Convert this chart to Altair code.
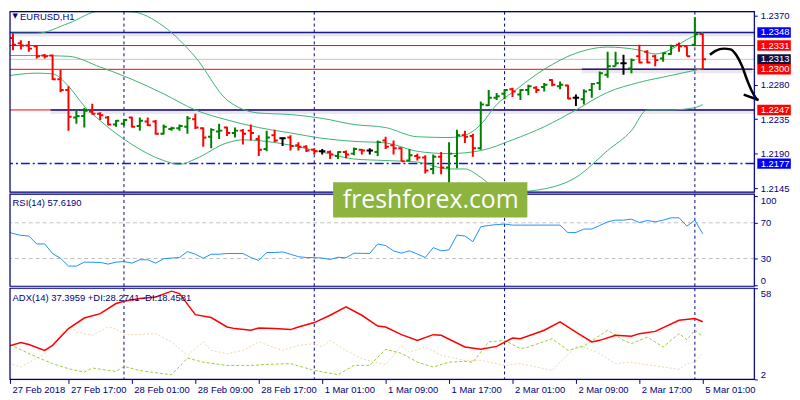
import json
import altair as alt
import pandas as pd

# ---------------- data (EURUSD H1, bars 27 Feb 09:00 -> 5 Mar 01:00) ----------------
OPEN = [1.2329, 1.2341, 1.2334, 1.2331, 1.2330, 1.2318, 1.2318, 1.2287, 1.2273, 1.2237,
        1.2239, 1.2245, 1.2242, 1.2237, 1.2228, 1.2229, 1.2237, 1.2226, 1.2232, 1.2232,
        1.2216, 1.2222, 1.2223, 1.2225, 1.2235, 1.2223, 1.2212, 1.2219, 1.2224, 1.2217,
        1.2220, 1.2220, 1.2209, 1.2196, 1.2214, 1.2210, 1.2211, 1.2201, 1.2199, 1.2195,
        1.2193, 1.2192, 1.2187, 1.2192, 1.2190, 1.2195, 1.2194, 1.2192, 1.2207, 1.2201,
        1.2197, 1.2181, 1.2187, 1.2185, 1.2170, 1.2186, 1.2172, 1.2187, 1.2214, 1.2213,
        1.2197, 1.2253, 1.2263, 1.2268, 1.2274, 1.2267, 1.2273, 1.2276, 1.2277, 1.2286,
        1.2278, 1.2279, 1.2263, 1.2261, 1.2273, 1.2282, 1.2293, 1.2304, 1.2308, 1.2301,
        1.2317, 1.2323, 1.2317, 1.2314, 1.2320, 1.2332, 1.2330, 1.2332, 1.2346]
HIGH = [1.2346, 1.2347, 1.2338, 1.2337, 1.2331, 1.2320, 1.2319, 1.2299, 1.2278, 1.2248,
        1.2250, 1.2255, 1.2244, 1.2239, 1.2234, 1.2235, 1.2238, 1.2237, 1.2237, 1.2234,
        1.2228, 1.2225, 1.2228, 1.2239, 1.2242, 1.2224, 1.2223, 1.2229, 1.2225, 1.2224,
        1.2222, 1.2228, 1.2214, 1.2220, 1.2221, 1.2211, 1.2214, 1.2205, 1.2201, 1.2197,
        1.2196, 1.2194, 1.2193, 1.2194, 1.2198, 1.2196, 1.2197, 1.2207, 1.2212, 1.2207,
        1.2198, 1.2196, 1.2190, 1.2188, 1.2189, 1.2192, 1.2205, 1.2221, 1.2220, 1.2216,
        1.2258, 1.2273, 1.2269, 1.2274, 1.2276, 1.2274, 1.2280, 1.2278, 1.2282, 1.2287,
        1.2284, 1.2280, 1.2267, 1.2274, 1.2282, 1.2297, 1.2323, 1.2323, 1.2319, 1.2314,
        1.2332, 1.2325, 1.2319, 1.2322, 1.2332, 1.2335, 1.2330, 1.2368, 1.2347]
LOW = [1.2322, 1.2325, 1.2326, 1.2323, 1.2314, 1.2314, 1.2286, 1.2270, 1.2220, 1.2229,
       1.2224, 1.2241, 1.2234, 1.2227, 1.2225, 1.2226, 1.2224, 1.2220, 1.2226, 1.2215,
       1.2215, 1.2220, 1.2220, 1.2216, 1.2222, 1.2199, 1.2197, 1.2209, 1.2213, 1.2211,
       1.2202, 1.2207, 1.2187, 1.2193, 1.2205, 1.2200, 1.2194, 1.2194, 1.2192, 1.2189,
       1.2189, 1.2183, 1.2183, 1.2184, 1.2188, 1.2189, 1.2189, 1.2187, 1.2196, 1.2189,
       1.2180, 1.2180, 1.2181, 1.2164, 1.2163, 1.2163, 1.2152, 1.2171, 1.2204, 1.2186,
       1.2195, 1.2252, 1.2260, 1.2261, 1.2264, 1.2260, 1.2266, 1.2269, 1.2271, 1.2278,
       1.2274, 1.2261, 1.2252, 1.2254, 1.2263, 1.2273, 1.2289, 1.2304, 1.2293, 1.2295,
       1.2308, 1.2308, 1.2304, 1.2310, 1.2319, 1.2323, 1.2317, 1.2330, 1.2299]
CLOSE = [1.2341, 1.2332, 1.2331, 1.2327, 1.2317, 1.2317, 1.2287, 1.2273, 1.2238, 1.2239,
         1.2246, 1.2242, 1.2240, 1.2228, 1.2233, 1.2234, 1.2225, 1.2233, 1.2227, 1.2216,
         1.2225, 1.2223, 1.2226, 1.2236, 1.2224, 1.2211, 1.2221, 1.2220, 1.2217, 1.2220,
         1.2216, 1.2217, 1.2195, 1.2211, 1.2207, 1.2210, 1.2200, 1.2199, 1.2194, 1.2193,
         1.2193, 1.2189, 1.2192, 1.2189, 1.2196, 1.2194, 1.2194, 1.2205, 1.2199, 1.2197,
         1.2180, 1.2188, 1.2185, 1.2168, 1.2186, 1.2172, 1.2190, 1.2214, 1.2212, 1.2197,
         1.2254, 1.2263, 1.2265, 1.2273, 1.2271, 1.2273, 1.2278, 1.2273, 1.2280, 1.2280,
         1.2280, 1.2262, 1.2263, 1.2271, 1.2281, 1.2295, 1.2304, 1.2308, 1.2308, 1.2312,
         1.2309, 1.2309, 1.2312, 1.2321, 1.2330, 1.2330, 1.2317, 1.2346, 1.2313]

BB_UP_IDX = [0, 4, 8, 12, 16, 20, 24, 28, 32, 36, 40, 44, 48, 52, 56, 58, 60, 62, 64, 68, 72, 76, 80, 82, 84, 86, 88]
BB_UP = [1.2347, 1.2347, 1.2360, 1.2376, 1.2375, 1.2356, 1.2316, 1.2260, 1.2243, 1.2241, 1.2236, 1.2228, 1.2224,
         1.2212, 1.2211, 1.2214, 1.2228, 1.2254, 1.2270, 1.2300, 1.2321, 1.2329, 1.2325, 1.2320, 1.2326, 1.2339, 1.2348]
BB_MID_IDX = [0, 4, 8, 12, 16, 20, 24, 28, 32, 36, 40, 44, 48, 52, 56, 60, 64, 68, 72, 76, 80, 84, 88]
BB_MID = [1.2318, 1.2318, 1.2317, 1.2303, 1.2287, 1.2268, 1.2247, 1.2234, 1.2224, 1.2217, 1.2210, 1.2206,
          1.2204, 1.2193, 1.2190, 1.2194, 1.2208, 1.2225, 1.2247, 1.2270, 1.2283, 1.2292, 1.2301]
BB_LOW_IDX = [0, 4, 6, 8, 10, 12, 16, 20, 22, 24, 28, 30, 32, 36, 40, 44, 48, 52, 56, 58, 60, 62, 64, 68, 72,
              76, 79, 81, 84, 87, 88]
BB_LOW = [1.2291, 1.2295, 1.2294, 1.2278, 1.2252, 1.2233, 1.2202, 1.2181, 1.2176, 1.2183, 1.2204, 1.2208,
          1.2207, 1.2201, 1.2192, 1.2183, 1.2181, 1.2179, 1.2170, 1.2170, 1.2159, 1.2144, 1.2140, 1.2144,
          1.2159, 1.2194, 1.2220, 1.2247, 1.2247, 1.2250, 1.2254]

RSI = [61.0, 58.0, 56.0, 55.2, 46.3, 46.3, 35.5, 30.3, 21.5, 21.5,
       25.9, 25.8, 25.6, 23.7, 25.9, 26.7, 24.8, 28.6, 28.6, 24.8,
       29.7, 30.5, 31.1, 37.8, 34.8, 30.3, 34.8, 34.8, 35.6, 35.6,
       35.6, 31.1, 27.8, 36.7, 36.7, 37.4, 34.8, 32.0, 31.1, 31.0,
       30.5, 28.9, 31.4, 30.8, 35.9, 35.8, 35.6, 46.3, 44.5, 38.5,
       36.0, 38.6, 35.0, 31.1, 42.2, 38.6, 39.7, 56.3, 55.2, 48.9,
       65.6, 67.0, 68.0, 68.6, 67.4, 67.4, 67.4, 67.4, 67.4, 67.4,
       67.4, 58.9, 59.2, 63.0, 63.0, 67.0, 71.1, 73.0, 73.0, 74.1,
       70.3, 72.6, 71.1, 73.0, 75.6, 75.6, 66.3, 73.0, 57.6]

ADX_IDX = [0, 2, 3, 5, 6, 8, 10, 12, 14, 15, 17, 19, 21, 22, 24, 26, 28, 29, 31, 32, 34, 36, 37, 39, 41, 43, 45,
           47, 48, 50, 52, 54, 55, 58, 60, 62, 64, 65, 68, 70, 72, 74, 75, 77, 79, 80, 82, 85, 87, 88]
ADX = [21.9, 24.6, 23.4, 19.8, 22.9, 33.2, 39.7, 42.4, 48.6, 50.0, 51.7, 52.6, 56.2, 54.7, 41.8, 40.0, 34.2,
       33.2, 32.2, 33.6, 33.2, 32.6, 34.2, 36.9, 41.4, 46.5, 41.4, 34.8, 34.2, 29.5, 26.0, 29.5, 29.1, 21.9,
       20.5, 22.3, 27.4, 27.0, 32.2, 37.3, 31.1, 25.0, 26.0, 29.1, 28.5, 30.1, 31.5, 38.3, 39.4, 37.4]
PDI_IDX = [0, 1, 4, 6, 8, 10, 11, 14, 15, 17, 19, 21, 23, 25, 28, 31, 33, 36, 39, 42, 44, 46, 48, 50, 52, 54,
           56, 58, 59, 61, 63, 65, 66, 69, 71, 73, 76, 78, 79, 81, 83, 85, 86, 87, 88]
PDI = [24.0, 22.5, 15.7, 11.7, 8.6, 6.5, 9.0, 6.9, 10.0, 7.5, 6.1, 4.9, 15.1, 12.6, 10.6, 10.6, 11.2, 11.7,
       7.5, 4.9, 10.6, 10.6, 20.5, 18.0, 12.6, 9.6, 12.6, 13.1, 12.6, 25.0, 26.0, 20.9, 21.9, 27.0, 19.8,
       22.5, 32.2, 26.0, 24.0, 28.0, 21.9, 30.1, 26.4, 32.2, 28.3]
MDI_IDX = [0, 2, 5, 8, 9, 11, 13, 14, 15, 17, 19, 21, 23, 25, 26, 28, 30, 32, 35, 37, 39, 40, 41, 43, 45, 48,
           50, 51, 53, 55, 58, 60, 63, 65, 67, 69, 70, 72, 73, 75, 77, 79, 80, 83, 85, 86, 87, 88]
MDI = [12.6, 9.6, 17.8, 35.2, 31.1, 29.1, 34.2, 33.2, 29.5, 29.5, 30.1, 25.0, 16.8, 25.0, 19.8, 17.8, 19.8,
       25.0, 19.8, 22.9, 24.0, 21.9, 26.0, 19.8, 14.7, 11.0, 22.9, 18.8, 21.9, 16.8, 13.7, 13.7, 10.6, 11.7,
       9.6, 7.5, 12.6, 21.9, 21.9, 17.8, 11.7, 12.6, 11.7, 9.6, 8.2, 11.7, 12.6, 18.5]

X_TICKS = [0, 8, 16, 24, 32, 40, 48, 56, 64, 72, 80, 88]
X_LABELS = ["27 Feb 2018", "27 Feb 17:00", "28 Feb 01:00", "28 Feb 09:00", "28 Feb 17:00", "1 Mar 01:00",
            "1 Mar 09:00", "1 Mar 17:00", "2 Mar 01:00", "2 Mar 09:00", "2 Mar 17:00", "5 Mar 01:00"]
DAY_SEPARATORS = [15, 39, 63, 87]
PRICE_TICKS = [1.2370, 1.2280, 1.2235, 1.2190, 1.2145]
RSI_TICKS = [100, 70, 30, 0]
RSI_LEVELS = [70, 30]
ADX_TICKS = [58, 2]

RED_LEVELS = [1.2331, 1.2300, 1.2247]
BID = 1.2313
DASHDOT_LEVEL = 1.2177
TREND_P = [1.2348, 1.2300, 1.2247]
TREND_X0 = [0.0, 72.75, 5.75]
TREND_X1 = [94.5, 94.25, 94.5]
LABEL_LEVELS = [1.2348, 1.2331, 1.2313, 1.2300, 1.2247, 1.2177]
LABEL_BG = ["#0000FF", "#FF0000", "#101040", "#FF0000", "#FF0000", "#0000FF"]

ARROW_I = [88.9, 89.6, 90.66, 91.5, 92.2, 92.96, 93.59, 94.21, 94.84]
ARROW_P = [1.2319, 1.2324, 1.2327, 1.2326, 1.2319, 1.2304, 1.2286, 1.2271, 1.2260]
BARB_I = [93.16, 95.04]
BARB_P = [1.2267, 1.2260]

# ---------------- layout / style ----------------
NAVY = "#000080"
FONT = "Liberation Sans"
FS = 9.5
W = 751
H_MAIN, H_RSI, H_ADX = 182, 93, 92
X_DOM = [0.625, 94.5]
P_DOM = [1.213982, 1.237517]
R_DOM = [-1.1, 102.2]
A_DOM = [2, 58]
FRAME_W = 1.2

xs = alt.Scale(domain=X_DOM, nice=False, zero=False)
ps = alt.Scale(domain=P_DOM, nice=False, zero=False)
rs = alt.Scale(domain=R_DOM, nice=False, zero=False)
ads = alt.Scale(domain=A_DOM, nice=False, zero=False)

common_axis = dict(title=None, grid=False, domain=False, tickSize=3, tickColor=NAVY,
                   labelColor=NAVY, labelFont=FONT, labelFontSize=FS, labelPadding=3)
p_axis = alt.Axis(orient="right", values=PRICE_TICKS, format=".4f", **common_axis)
r_axis = alt.Axis(orient="right", values=RSI_TICKS, labelFlush=6, **common_axis)
a_axis = alt.Axis(orient="right", values=ADX_TICKS, labelFlush=6, **common_axis)
x_axis = alt.Axis(values=[max(t, X_DOM[0]) for t in X_TICKS],
                  labelExpr=json.dumps(X_LABELS) + "[round(datum.value / 8)]",
                  title=None, grid=False, domain=False, tickSize=4, tickColor=NAVY,
                  labelColor=NAVY, labelFont=FONT, labelFontSize=FS, labelAlign="left",
                  labelPadding=1, labelOffset=2, labelOverlap=False)


def X(f, axis=None):
    return alt.X(f"{f}:Q", scale=xs, axis=axis, title=None)


def PY(f):
    return alt.Y(f"{f}:Q", scale=ps, axis=p_axis, title=None)


def RY(f):
    return alt.Y(f"{f}:Q", scale=rs, axis=r_axis, title=None)


def AY(f):
    return alt.Y(f"{f}:Q", scale=ads, axis=a_axis, title=None)


sep_df = pd.DataFrame({"i": DAY_SEPARATORS})

# ---------------- main panel ----------------
n = len(OPEN)
cdf = pd.DataFrame({"i": list(range(n)), "o": OPEN, "h": HIGH, "l": LOW, "c": CLOSE})
cdf["dir"] = ["up" if c > o else ("down" if c < o else "flat") for o, c in zip(OPEN, CLOSE)]
cdf["il"] = cdf["i"] - 0.4
cdf["ir"] = cdf["i"] + 0.4
ccol = alt.Color("dir:N", scale=alt.Scale(domain=["up", "down", "flat"],
                                          range=["#008000", "#FF0000", "#000000"]), legend=None)

bb_df = pd.concat([
    pd.DataFrame({"i": BB_UP_IDX, "p": BB_UP, "band": "up"}),
    pd.DataFrame({"i": BB_MID_IDX, "p": BB_MID, "band": "mid"}),
    pd.DataFrame({"i": BB_LOW_IDX, "p": BB_LOW, "band": "low"}),
])

trend_df = pd.DataFrame({"p": TREND_P, "x0": [max(v, X_DOM[0]) for v in TREND_X0], "x1": TREND_X1})
lab_df = pd.DataFrame({"p": LABEL_LEVELS, "bg": LABEL_BG,
                       "label": [f"{v:.4f}" for v in LABEL_LEVELS]})
lab_df["top"] = lab_df["p"] + 0.00068
lab_df["bot"] = lab_df["p"] - 0.00068
lab_df["x0"] = 94.875
lab_df["x1"] = 99.1
lab_df["tx"] = 95.3

arrow_df = pd.DataFrame({"i": ARROW_I, "p": ARROW_P, "ord": list(range(len(ARROW_I)))})
barb_df = pd.DataFrame({"i": BARB_I, "p": BARB_P, "ord": [0, 1]})
frame_main = pd.DataFrame({"x0": [X_DOM[0]], "x1": [X_DOM[1]], "y0": [P_DOM[0]], "y1": [P_DOM[1]]})
title_df = pd.DataFrame({"i": [1.9], "p": [1.23681], "t": ["EURUSD,H1"]})
tri_df = pd.DataFrame({"i": [0.95], "p": [1.23690], "t": ["\u25BC"]})

main = alt.layer(
    alt.Chart(sep_df).mark_rule(color=NAVY, strokeDash=[3, 3], strokeWidth=1).encode(x=X("i")),
    alt.Chart(pd.DataFrame({"p": RED_LEVELS})).mark_rule(color="#FF0000", strokeWidth=1).encode(y=PY("p")),
    alt.Chart(pd.DataFrame({"p": [BID]})).mark_rule(color="#C8C8C8", strokeWidth=1).encode(y=PY("p")),
    alt.Chart(pd.DataFrame({"p": [DASHDOT_LEVEL]})).mark_rule(
        color="#1515D0", strokeWidth=1.5, strokeDash=[9, 3, 2, 3]).encode(y=PY("p")),
    alt.Chart(trend_df).mark_rule(color="#A8A8B8", strokeWidth=5, opacity=0.25, yOffset=1.5, clip=True).encode(
        x=X("x0"), x2="x1", y=PY("p")),
    alt.Chart(trend_df).mark_rule(color="#1A1A8C", strokeWidth=1.6, clip=True).encode(
        x=X("x0"), x2="x1", y=PY("p")),
    alt.Chart(bb_df).mark_line(color="#3CB371", strokeWidth=1, interpolate="monotone", clip=True).encode(
        x=X("i"), y=PY("p"), detail="band:N"),
    alt.Chart(cdf).mark_rule(strokeWidth=2, clip=True).encode(x=X("i"), y=PY("l"), y2="h", color=ccol),
    alt.Chart(cdf).mark_rule(strokeWidth=2, clip=True).encode(x=X("il"), x2="i", y=PY("o"), color=ccol),
    alt.Chart(cdf).mark_rule(strokeWidth=2, clip=True).encode(x=X("i"), x2="ir", y=PY("c"), color=ccol),
    alt.Chart(arrow_df).mark_line(color="#000000", strokeWidth=2.5, interpolate="monotone").encode(
        x=X("i"), y=PY("p"), order="ord:Q"),
    alt.Chart(barb_df).mark_line(color="#000000", strokeWidth=2.5).encode(x=X("i"), y=PY("p"), order="ord:Q"),
    alt.Chart(lab_df).mark_rect().encode(x=X("x0"), x2="x1", y=PY("top"), y2="bot",
                                         color=alt.Color("bg:N", scale=None)),
    alt.Chart(lab_df).mark_text(align="left", baseline="middle", color="white", font=FONT,
                                fontSize=FS).encode(x=X("tx"), y=PY("p"), text="label:N"),
    alt.Chart(title_df).mark_text(align="left", baseline="middle", color=NAVY, font=FONT,
                                  fontSize=FS).encode(x=X("i"), y=PY("p"), text="t:N"),
    alt.Chart(tri_df).mark_text(align="left", baseline="middle", color=NAVY, font="DejaVu Sans",
                                fontSize=7).encode(x=X("i"), y=PY("p"), text="t:N"),
    alt.Chart(frame_main).mark_rect(fillOpacity=0, stroke=NAVY, strokeWidth=FRAME_W).encode(
        x=X("x0"), x2="x1", y=PY("y0"), y2="y1"),
).properties(width=W, height=H_MAIN)

# ---------------- RSI panel ----------------
rsi_df = pd.DataFrame({"i": list(range(len(RSI))), "v": RSI})
frame_rsi = pd.DataFrame({"x0": [X_DOM[0]], "x1": [X_DOM[1]], "y0": [R_DOM[0]], "y1": [R_DOM[1]]})
rsi_lab = pd.DataFrame({"i": [0.95], "v": [92.2], "t": ["RSI(14) 57.6190"]})
wm_df = pd.DataFrame({"x0": [41.375], "x1": [65.875], "y0": [75.9], "y1": [115.5]})
wm_txt = pd.DataFrame({"i": [53.69], "v": [86.1], "t": ["freshforex.com"]})

rsi = alt.layer(
    alt.Chart(pd.DataFrame({"v": RSI_LEVELS})).mark_rule(color="#C0C0C0", strokeDash=[4, 3], strokeWidth=1).encode(
        y=RY("v")),
    alt.Chart(sep_df).mark_rule(color=NAVY, strokeDash=[3, 3], strokeWidth=1).encode(x=X("i")),
    alt.Chart(rsi_df).mark_line(color="#1E90FF", strokeWidth=1, clip=True).encode(x=X("i"), y=RY("v")),
    alt.Chart(frame_rsi).mark_rect(fillOpacity=0, stroke=NAVY, strokeWidth=FRAME_W).encode(
        x=X("x0"), x2="x1", y=RY("y0"), y2="y1"),
    alt.Chart(rsi_lab).mark_text(align="left", baseline="middle", color=NAVY, font=FONT,
                                 fontSize=FS).encode(x=X("i"), y=RY("v"), text="t:N"),
    alt.Chart(wm_df).mark_rect(color="#8DB43F").encode(x=X("x0"), x2="x1", y=RY("y0"), y2="y1"),
    alt.Chart(wm_txt).mark_text(align="center", baseline="alphabetic", color="white", font="Open Sans",
                                fontSize=25).encode(x=X("i"), y=RY("v"), text="t:N"),
).properties(width=W, height=H_RSI)

# ---------------- ADX panel ----------------
adx_df = pd.DataFrame({"i": ADX_IDX, "v": ADX})
pdi_df = pd.DataFrame({"i": PDI_IDX, "v": PDI})
mdi_df = pd.DataFrame({"i": MDI_IDX, "v": MDI})
frame_adx = pd.DataFrame({"x0": [X_DOM[0]], "x1": [X_DOM[1]], "y0": [A_DOM[0]], "y1": [A_DOM[1]]})
adx_lab = pd.DataFrame({"i": [0.95], "v": [51.9], "t": ["ADX(14) 37.3959 +DI:28.2741 -DI:18.4581"]})


def XA(f):
    return X(f, x_axis)


adx = alt.layer(
    alt.Chart(sep_df).mark_rule(color=NAVY, strokeDash=[3, 3], strokeWidth=1).encode(x=XA("i")),
    alt.Chart(mdi_df).mark_line(color="#F0D4A8", strokeWidth=1, strokeDash=[2, 2], clip=True).encode(
        x=XA("i"), y=AY("v")),
    alt.Chart(pdi_df).mark_line(color="#9ACD32", strokeWidth=1, strokeDash=[3, 2], clip=True).encode(
        x=XA("i"), y=AY("v")),
    alt.Chart(adx_df).mark_line(color="#FF0000", strokeWidth=1.5, clip=True).encode(x=XA("i"), y=AY("v")),
    alt.Chart(frame_adx).mark_rect(fillOpacity=0, stroke=NAVY, strokeWidth=FRAME_W).encode(
        x=XA("x0"), x2="x1", y=AY("y0"), y2="y1"),
    alt.Chart(adx_lab).mark_text(align="left", baseline="middle", color=NAVY, font=FONT,
                                 fontSize=FS).encode(x=XA("i"), y=AY("v"), text="t:N"),
).properties(width=W, height=H_ADX)

chart = alt.vconcat(main, rsi, adx, spacing=2, bounds="flush").properties(
    padding={"left": 0, "top": 0, "right": 0, "bottom": 0}
).configure_view(stroke="transparent").configure(background="white")

chart.save("out.html", embed_options={"renderer": "svg", "actions": False})
